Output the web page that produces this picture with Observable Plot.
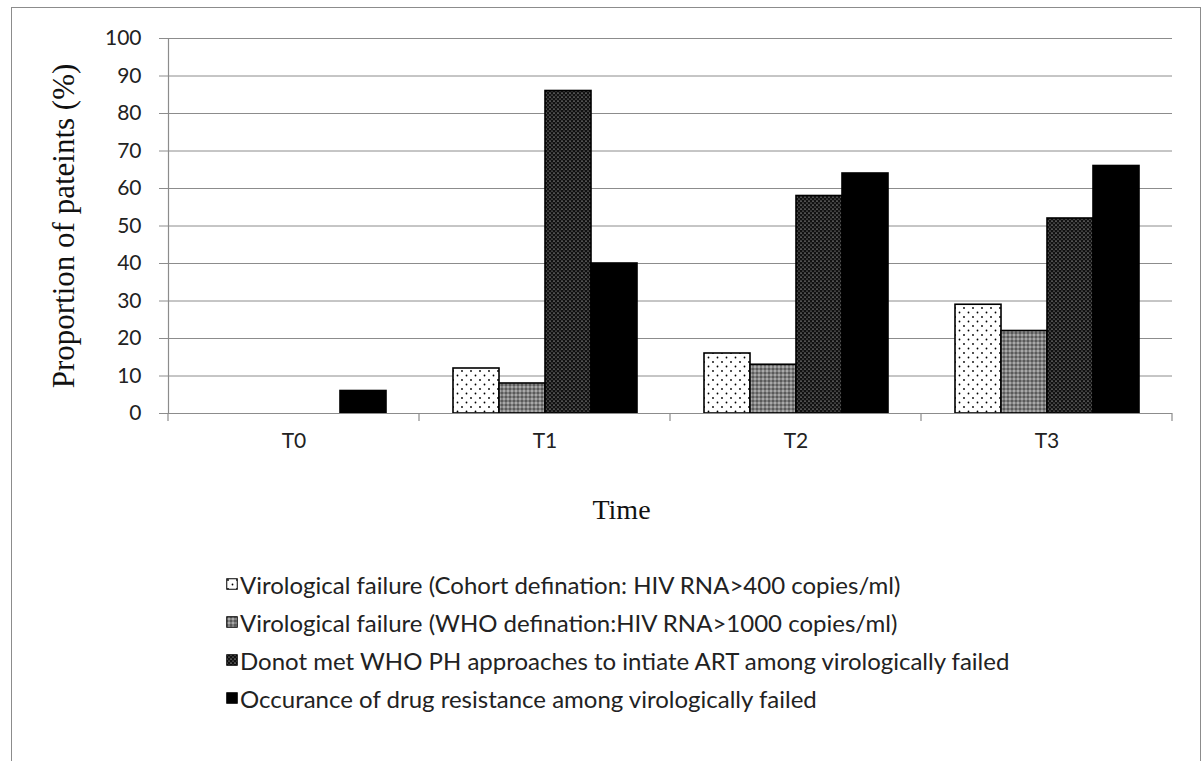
<!DOCTYPE html>
<html><head><meta charset="utf-8">
<script src="https://cdn.jsdelivr.net/npm/d3@7"></script>
<script src="https://cdn.jsdelivr.net/npm/@observablehq/plot@0.6"></script>
<style>
body{margin:0;background:#fff;}
#frame{position:absolute;left:11px;top:7px;width:1188px;height:800px;border:1.5px solid #8c8c8c;border-bottom:none;}
#chart{position:absolute;left:0;top:0;}
#legend{position:absolute;left:226px;top:565px;font-family:Lato,"Open Sans",sans-serif;font-size:24px;color:#222;}
.row{height:38px;display:flex;align-items:center;white-space:nowrap;}
.row svg{margin-right:2px;}
</style></head><body>
<div id="frame"></div>
<div id="chart"></div>
<div id="legend"></div>
<script>
// ---- data ----
const times = ["T0", "T1", "T2", "T3"];
const seriesNames = [
  "Virological failure (Cohort defination: HIV RNA>400 copies/ml)",
  "Virological failure (WHO defination:HIV RNA>1000 copies/ml)",
  "Donot met WHO PH approaches to intiate ART among virologically failed",
  "Occurance of drug resistance among virologically failed"
];
const cohortFailure = [0, 12, 16, 29];
const whoFailure = [0, 8, 13, 22];
const notMetWHO = [0, 86, 58, 52];
const drugResistance = [6, 40, 64, 66];
const yTicks = [0, 10, 20, 30, 40, 50, 60, 70, 80, 90, 100];
const yLabel = "Proportion of pateints (%)";
const xLabel = "Time";
const patternFills = ["url(#pat1)", "url(#pat2)", "url(#pat3)", "url(#pat4)"];

const seriesValues = [cohortFailure, whoFailure, notMetWHO, drugResistance];
const data = [];
times.forEach((t, i) => seriesNames.forEach((s, j) => data.push({time: t, series: s, value: seriesValues[j][i]})));

const grey = "#8c8c8c";
const plot = Plot.plot({
  width: 1204,
  height: 540,
  marginLeft: 166,
  marginRight: 31,
  marginTop: 38,
  marginBottom: 127,
  style: {fontFamily: "Lato, 'Open Sans', sans-serif", fontSize: "21px", color: "#222", background: "transparent", overflow: "visible"},
  fx: {domain: times, padding: 0},
  x: {domain: seriesNames, paddingInner: 0, paddingOuter: 0.72, axis: null},
  y: {domain: [0, 100]},
  color: {domain: seriesNames, range: patternFills},
  marks: [
    Plot.gridY(yTicks, {stroke: grey, strokeOpacity: 1, strokeWidth: 1}),
    Plot.frame({anchor: "left", facetAnchor: "left", stroke: grey, strokeWidth: 1.2}),
    Plot.barY(data, {filter: d => d.value > 0, fx: "time", x: "series", y: "value", fill: "series", stroke: "black", strokeWidth: 1.6}),
    Plot.ruleY([0], {stroke: grey, strokeWidth: 1.2}),
    Plot.axisY(yTicks, {anchor: "left", tickSize: 9, tickPadding: 18, stroke: grey, label: yLabel, labelAnchor: "center", labelOffset: 117, labelArrow: false}),
    Plot.axisFx({anchor: "bottom", tickSize: 0, tickPadding: 20, label: xLabel, labelAnchor: "center", labelOffset: 105, labelArrow: false})
  ]
});
document.getElementById("chart").appendChild(plot);

const svg = d3.select(plot);
const defs = svg.insert("defs", ":first-child");
const p1 = defs.append("pattern").attr("id", "pat1").attr("patternUnits", "userSpaceOnUse").attr("width", 9).attr("height", 9);
p1.append("rect").attr("width", 9).attr("height", 9).attr("fill", "#fff");
p1.append("circle").attr("cx", 2).attr("cy", 2).attr("r", 0.9).attr("fill", "#000");
p1.append("circle").attr("cx", 6.5).attr("cy", 6.5).attr("r", 0.9).attr("fill", "#000");
const p2 = defs.append("pattern").attr("id", "pat2").attr("patternUnits", "userSpaceOnUse").attr("width", 4).attr("height", 4);
p2.append("rect").attr("width", 4).attr("height", 4).attr("fill", "#808080");
p2.append("circle").attr("cx", 1).attr("cy", 1).attr("r", 0.8).attr("fill", "#2a2a2a");
p2.append("circle").attr("cx", 3).attr("cy", 3).attr("r", 0.8).attr("fill", "#dddddd");
const p3 = defs.append("pattern").attr("id", "pat3").attr("patternUnits", "userSpaceOnUse").attr("width", 4).attr("height", 4);
p3.append("rect").attr("width", 4).attr("height", 4).attr("fill", "#111");
p3.append("circle").attr("cx", 1).attr("cy", 1).attr("r", 0.6).attr("fill", "#fff");
p3.append("circle").attr("cx", 3).attr("cy", 3).attr("r", 0.6).attr("fill", "#bbb");
const p4 = defs.append("pattern").attr("id", "pat4").attr("patternUnits", "userSpaceOnUse").attr("width", 4).attr("height", 4);
p4.append("rect").attr("width", 4).attr("height", 4).attr("fill", "#000");

// axis label fonts
svg.selectAll('g[aria-label="y-axis label"] text')
  .attr("font-family", "'Liberation Serif', 'Times New Roman', serif")
  .attr("font-size", 31)
  .attr("fill", "#111");
svg.selectAll('g[aria-label="fx-axis label"] text')
  .attr("font-family", "'Liberation Serif', 'Times New Roman', serif")
  .attr("font-size", 28)
  .attr("fill", "#111")
  .attr("dx", -49);

// category boundary ticks on the x axis, from the library's scales
const fxScale = plot.scale("fx");
const yScale = plot.scale("y");
const y0 = yScale.apply(0);
const bounds = times.map(t => fxScale.apply(t)).concat([fxScale.apply(times[times.length - 1]) + fxScale.bandwidth]);
svg.append("g").selectAll("line").data(bounds).join("line")
  .attr("x1", d => d).attr("x2", d => d)
  .attr("y1", y0).attr("y2", y0 + 8)
  .attr("stroke", grey).attr("stroke-width", 1.2);

// legend
const legend = d3.select("#legend");
seriesNames.forEach((s, j) => {
  const row = legend.append("div").attr("class", "row");
  const sw = row.append("svg").attr("width", 12).attr("height", 12);
  sw.append("rect").attr("x", 0.75).attr("y", 0.75).attr("width", 10.5).attr("height", 10.5)
    .attr("fill", patternFills[j]).attr("stroke", "#000").attr("stroke-width", 1);
  row.append("span").text(s);
});
</script>
</body></html>
